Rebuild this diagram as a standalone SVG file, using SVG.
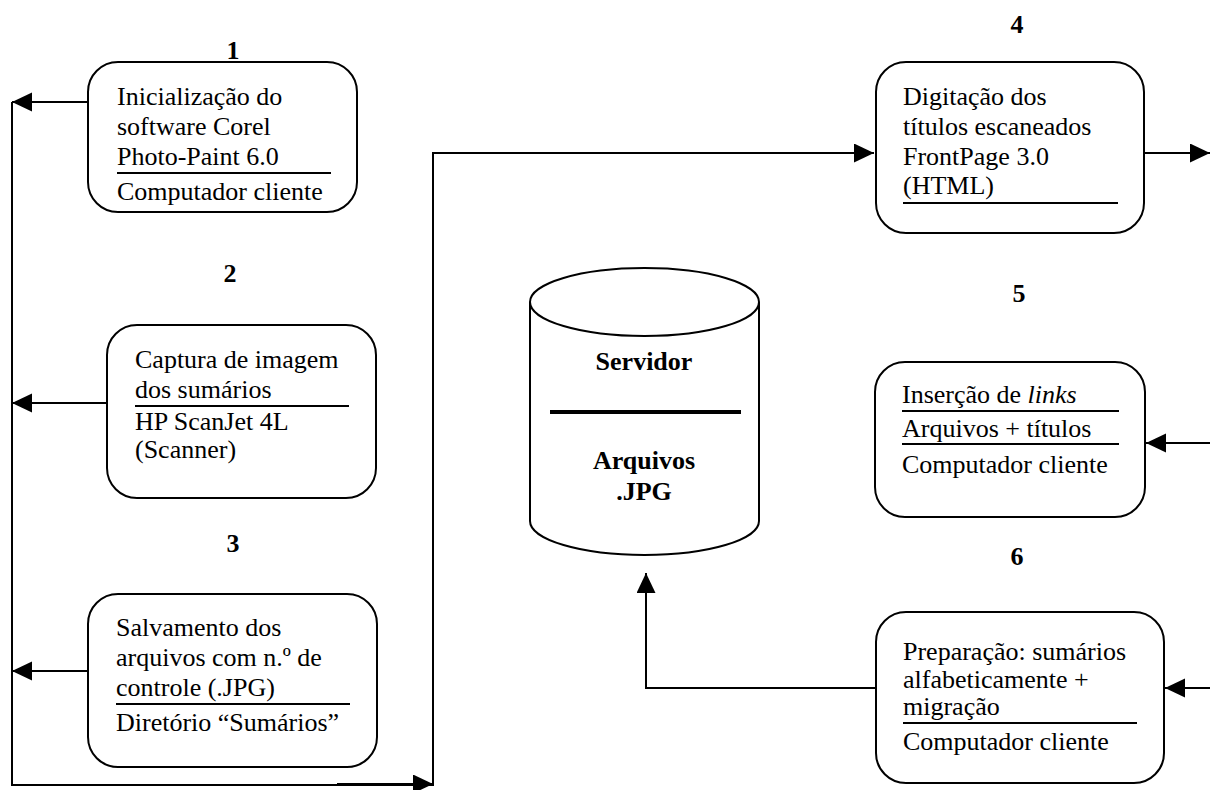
<svg xmlns="http://www.w3.org/2000/svg" width="1210" height="790" viewBox="0 0 1210 790">
<style>
  .box { fill: #fff; stroke: #000; stroke-width: 2; }
  .t { font-family: "Liberation Serif", "Times New Roman", serif; font-size: 26px; fill: #000; }
  .b { font-family: "Liberation Serif", "Times New Roman", serif; font-size: 26px; font-weight: bold; fill: #000; text-anchor: middle; }
  .ul { stroke: #000; stroke-width: 2; }
  .conn { fill: none; stroke: #000; stroke-width: 2; }
</style>
<defs>
  <marker id="arrow" markerUnits="userSpaceOnUse" markerWidth="22" markerHeight="20" refX="20" refY="9.5" orient="auto" viewBox="0 0 22 20">
    <path d="M0,0 L20,9.5 L0,19 z" fill="#000"/>
  </marker>
</defs>
<rect width="1210" height="790" fill="#fff"/>

<g id="connectors">
  <path class="conn" d="M12,102 V785 H433 V153 H874" marker-end="url(#arrow)"/>
  <path class="conn" d="M88,102 H12" marker-end="url(#arrow)"/>
  <path class="conn" d="M107,403 H12" marker-end="url(#arrow)"/>
  <path class="conn" d="M88,671 H12" marker-end="url(#arrow)"/>
  <path class="conn" d="M337,784 H433" marker-end="url(#arrow)" stroke-width="2.5"/>
  <path class="conn" d="M1144,153 H1210" marker-end="url(#arrow)"/>
  <path class="conn" d="M1210,443 H1146" marker-end="url(#arrow)"/>
  <path class="conn" d="M1210,688 H1165" marker-end="url(#arrow)"/>
  <path class="conn" d="M876,688 H646 V573" marker-end="url(#arrow)"/>
</g>

<g id="node1">
  <text class="b" x="233" y="59">1</text>
  <rect class="box" x="88" y="62" width="269" height="150" rx="30" ry="30"/>
  <text class="t" x="117" y="105">Inicialização do</text>
  <text class="t" x="117" y="135">software Corel</text>
  <text class="t" x="117" y="165">Photo-Paint 6.0</text>
  <line class="ul" x1="117" y1="173" x2="331" y2="173"/>
  <text class="t" x="117" y="200">Computador cliente</text>
</g>

<g id="node2">
  <text class="b" x="230" y="282">2</text>
  <rect class="box" x="107" y="325" width="269" height="173" rx="30" ry="30"/>
  <text class="t" x="135" y="368">Captura de imagem</text>
  <text class="t" x="135" y="398">dos sumários</text>
  <line class="ul" x1="135" y1="406" x2="349" y2="406"/>
  <text class="t" x="135" y="430">HP ScanJet 4L</text>
  <text class="t" x="135" y="458">(Scanner)</text>
</g>

<g id="node3">
  <text class="b" x="233" y="552">3</text>
  <rect class="box" x="88" y="594" width="289" height="173" rx="30" ry="30"/>
  <text class="t" x="116" y="636">Salvamento dos</text>
  <text class="t" x="116" y="666">arquivos com n.º de</text>
  <text class="t" x="116" y="696">controle (.JPG)</text>
  <line class="ul" x1="116" y1="704" x2="350" y2="704"/>
  <text class="t" x="116" y="731">Diretório “Sumários”</text>
</g>

<g id="node4">
  <text class="b" x="1017" y="33">4</text>
  <rect class="box" x="876" y="62" width="268" height="171" rx="30" ry="30"/>
  <text class="t" x="903" y="105">Digitação dos</text>
  <text class="t" x="903" y="135">títulos escaneados</text>
  <text class="t" x="903" y="165">FrontPage 3.0</text>
  <text class="t" x="903" y="194">(HTML)</text>
  <line class="ul" x1="903" y1="203" x2="1118" y2="203"/>
</g>

<g id="server">
  <path class="box" d="M530,302 V521 A114.5,34 0 0 0 759,521 V302"/>
  <ellipse class="box" cx="644.5" cy="302" rx="114.5" ry="34"/>
  <text class="b" x="644" y="370">Servidor</text>
  <line x1="550" y1="412" x2="741" y2="412" stroke="#000" stroke-width="4"/>
  <text class="b" x="644" y="469">Arquivos</text>
  <text class="b" x="644" y="500">.JPG</text>
</g>

<g id="node5">
  <text class="b" x="1019" y="302">5</text>
  <rect class="box" x="875" y="362" width="270" height="155" rx="30" ry="30"/>
  <text class="t" x="902" y="403">Inserção de <tspan font-style="italic">links</tspan></text>
  <line class="ul" x1="902" y1="411" x2="1119" y2="411"/>
  <text class="t" x="902" y="437">Arquivos + títulos</text>
  <line class="ul" x1="902" y1="444" x2="1119" y2="444"/>
  <text class="t" x="902" y="473">Computador cliente</text>
</g>

<g id="node6">
  <text class="b" x="1017" y="565">6</text>
  <rect class="box" x="876" y="612" width="288" height="171" rx="30" ry="30"/>
  <text class="t" x="903" y="660">Preparação: sumários</text>
  <text class="t" x="903" y="688">alfabeticamente +</text>
  <text class="t" x="903" y="715">migração</text>
  <line class="ul" x1="903" y1="723" x2="1137" y2="723"/>
  <text class="t" x="903" y="750">Computador cliente</text>
</g>
</svg>
